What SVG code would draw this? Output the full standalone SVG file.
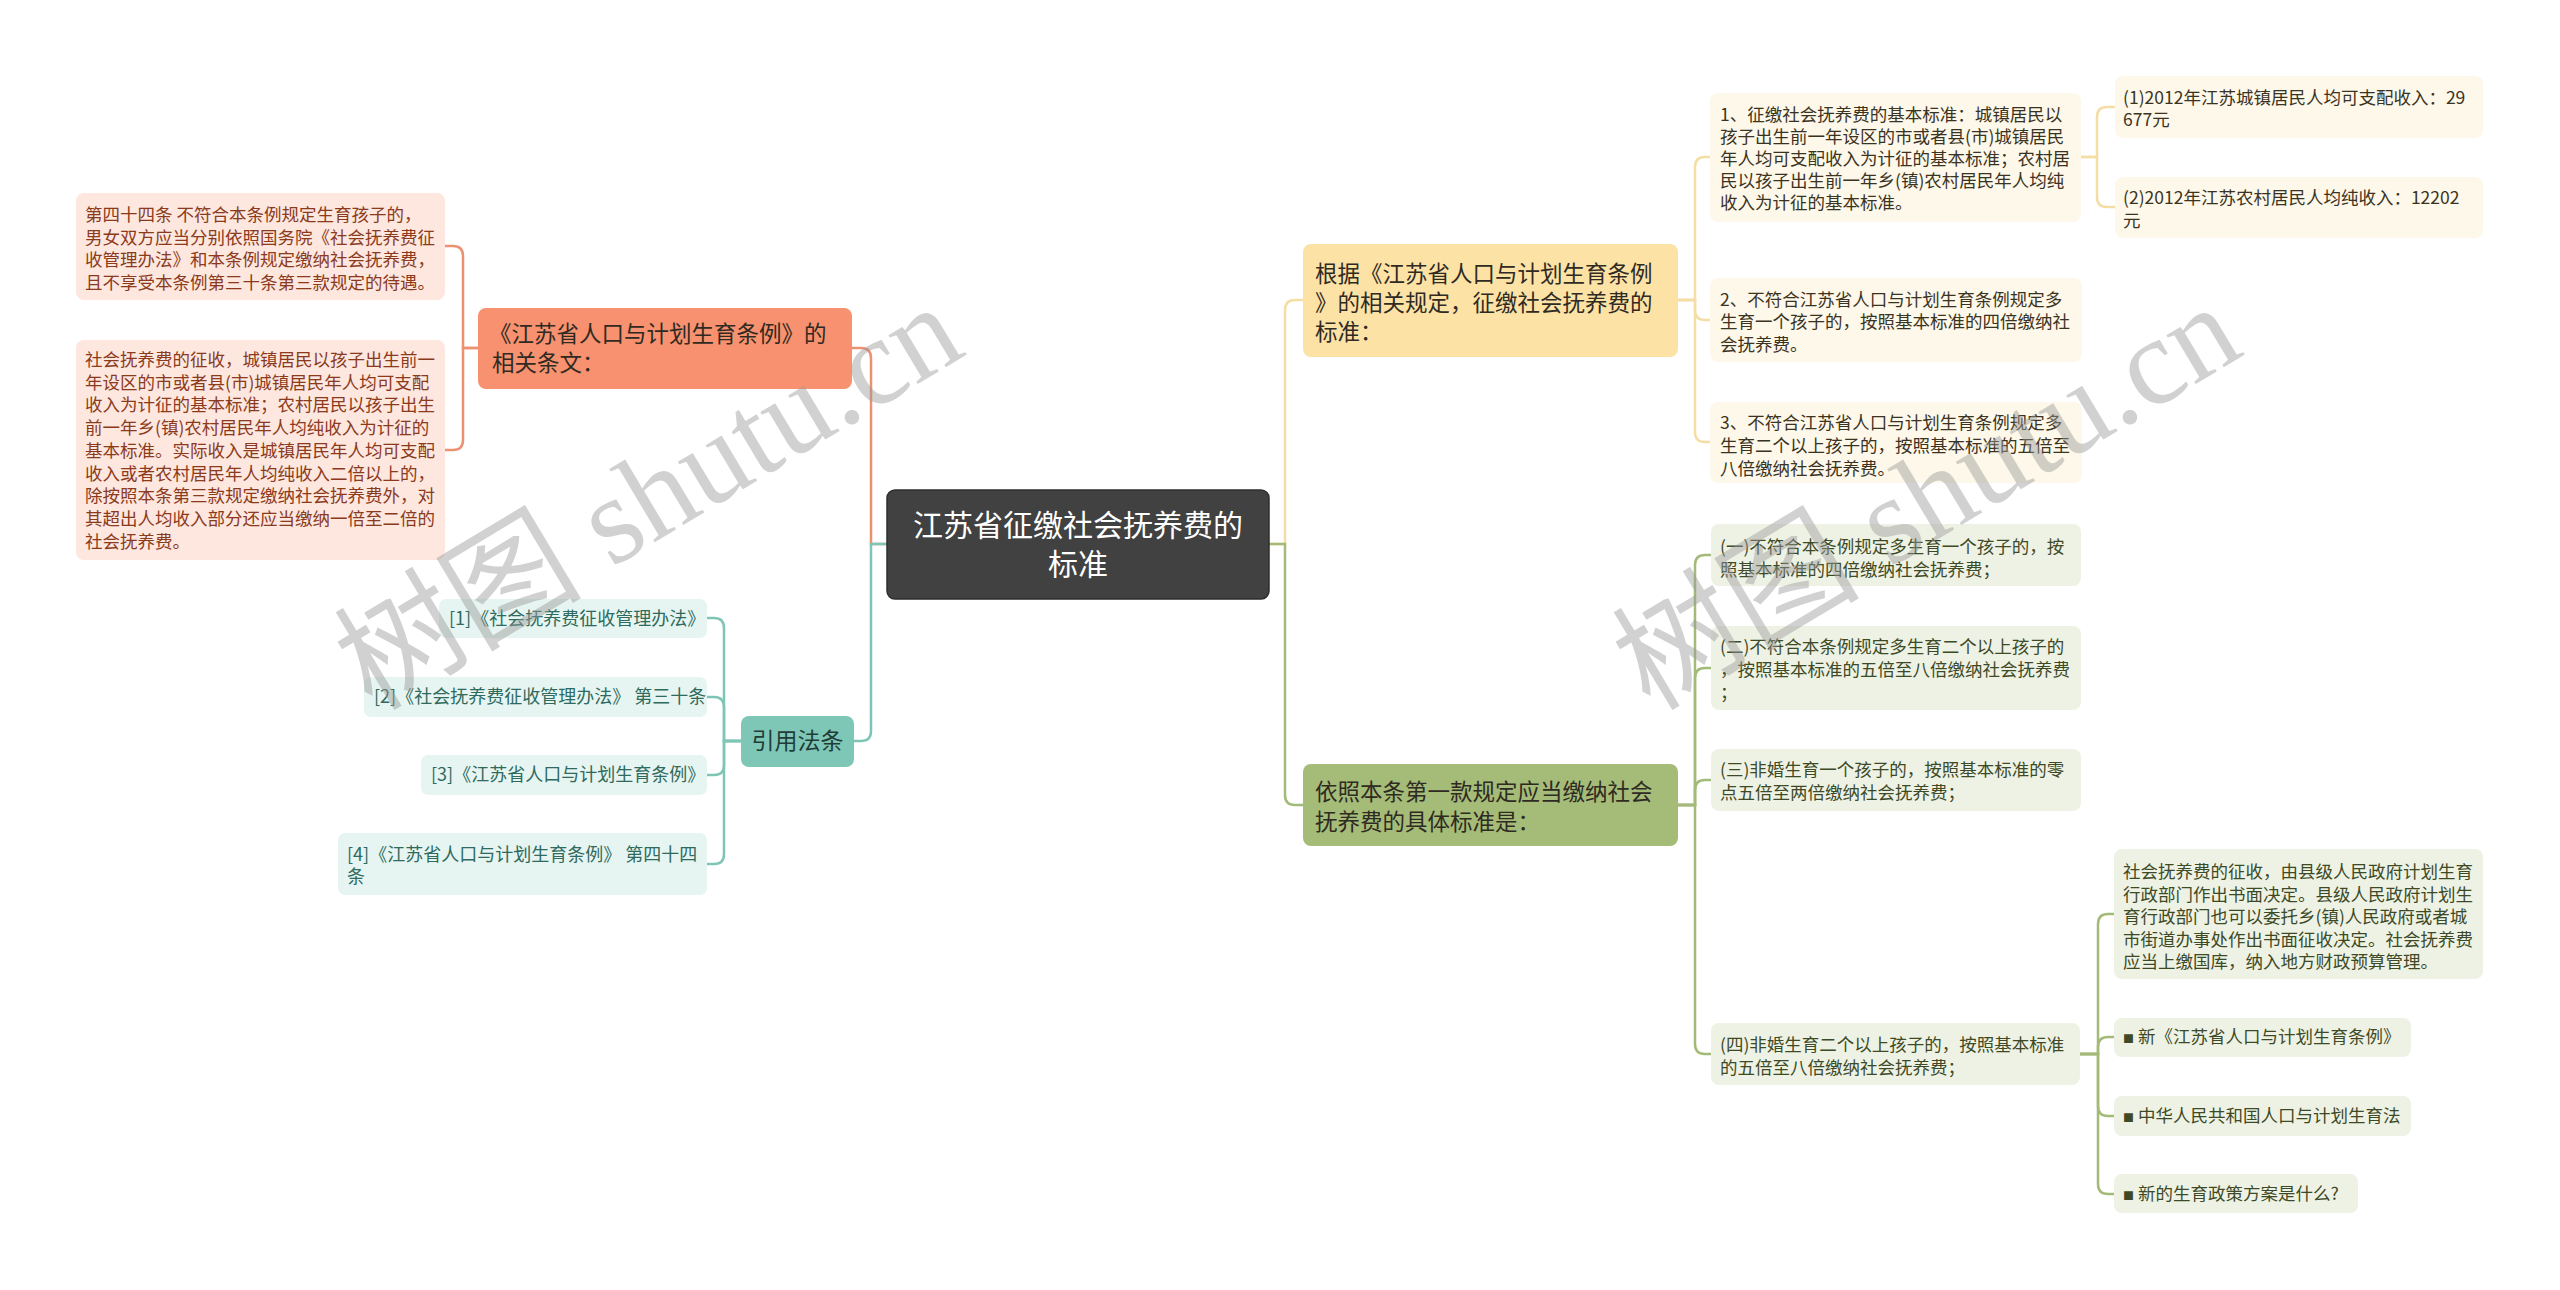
<svg xmlns="http://www.w3.org/2000/svg" width="2560" height="1290" viewBox="0 0 2560 1290">
<style>
text{font-family:"Noto Sans CJK SC","Noto Sans",sans-serif;}
.c{fill:none;stroke-width:2.5;}
.co{stroke:#ec9172;}
.ct{stroke:#7fc5b5;}
.cy{stroke:#f4dea6;}
.cg{stroke:#a3ba78;}
.root{fill:#414141;stroke:#2e2e2e;stroke-width:1.5;}
.rt{fill:#ffffff;font-size:30px;}
.no{fill:#f7916f;}
.nt{fill:#7ec7b6;}
.ny{fill:#fde2a6;}
.ng{fill:#a4bc78;}
.mt{font-size:22.5px;fill:#2f2a22;}
.lo{fill:#fde7df;}
.lt{fill:#e6f5f1;}
.ly{fill:#fdf8ea;}
.lg{fill:#eef2e5;}
.to{font-size:17.5px;fill:#8b3a1c;}
.tt{font-size:18px;fill:#2e6a5d;}
.ty{font-size:17.5px;fill:#3b3322;}
.tg{font-size:17.5px;fill:#3d4a25;}
.b{font-size:11px;}
.wm{font-family:"Liberation Serif","Noto Sans CJK SC",serif;font-size:124px;fill:#9a9a9a;fill-opacity:0.45;}
</style>

<g id="connectors">
<path class="c co" d="M887,544 H871 V358 Q871,348 861,348 H852"/>
<path class="c ct" d="M887,544 H871 V731 Q871,741 861,741 H854"/>
<path class="c cy" d="M1269,544 H1285 V310 Q1285,300 1295,300 H1303"/>
<path class="c cg" d="M1269,544 H1285 V795 Q1285,805 1295,805 H1303"/>

<path class="c co" d="M478,348 H463 V256 Q463,246 453,246 H445"/>
<path class="c co" d="M478,348 H463 V440 Q463,450 453,450 H445"/>

<path class="c ct" d="M741,741 H724 V628 Q724,618 714,618 H707"/>
<path class="c ct" d="M741,741 H724 V707 Q724,697 714,697 H707"/>
<path class="c ct" d="M741,741 H724 V765 Q724,775 714,775 H707"/>
<path class="c ct" d="M741,741 H724 V854 Q724,864 714,864 H707"/>

<path class="c cy" d="M1678,300 H1695 V167 Q1695,157 1705,157 H1710"/>
<path class="c cy" d="M1678,300 H1695 V310 Q1695,320 1705,320 H1710"/>
<path class="c cy" d="M1678,300 H1695 V432 Q1695,442 1705,442 H1710"/>

<path class="c cy" d="M2081,157 H2097 V117 Q2097,107 2107,107 H2115"/>
<path class="c cy" d="M2081,157 H2097 V197 Q2097,207 2107,207 H2115"/>

<path class="c cg" d="M1678,805 H1695 V565 Q1695,555 1705,555 H1711"/>
<path class="c cg" d="M1678,805 H1695 V678 Q1695,668 1705,668 H1711"/>
<path class="c cg" d="M1678,805 H1695 V790 Q1695,780 1705,780 H1711"/>
<path class="c cg" d="M1678,805 H1695 V1044 Q1695,1054 1705,1054 H1711"/>

<path class="c cg" d="M2080,1054 H2098 V924 Q2098,914 2108,914 H2114"/>
<path class="c cg" d="M2080,1054 H2098 V1047 Q2098,1037 2108,1037 H2114"/>
<path class="c cg" d="M2080,1054 H2098 V1106 Q2098,1116 2108,1116 H2114"/>
<path class="c cg" d="M2080,1054 H2098 V1184 Q2098,1194 2108,1194 H2114"/>
</g>

<g id="root">
<rect class="root" x="887" y="490" width="382" height="109" rx="8"/>
<text class="rt" x="1078" y="536" text-anchor="middle">江苏省征缴社会抚养费的</text>
<text class="rt" x="1078" y="575" text-anchor="middle">标准</text>
</g>

<g id="n-orange">
<rect class="no" x="478" y="308" width="374" height="81" rx="8"/>
<text class="mt" x="489" y="342">《江苏省人口与计划生育条例》的</text>
<text class="mt" x="492" y="371">相关条文：</text>
</g>

<g id="n-orange-1">
<rect class="lo" x="76" y="193" width="369" height="107" rx="8"/>
<text class="to" x="85" y="221">第四十四条 不符合本条例规定生育孩子的，</text>
<text class="to" x="85" y="244">男女双方应当分别依照国务院《社会抚养费征</text>
<text class="to" x="85" y="266">收管理办法》和本条例规定缴纳社会抚养费，</text>
<text class="to" x="85" y="289">且不享受本条例第三十条第三款规定的待遇。</text>
</g>

<g id="n-orange-2">
<rect class="lo" x="76" y="340" width="369" height="220" rx="8"/>
<text class="to" x="85" y="366">社会抚养费的征收，城镇居民以孩子出生前一</text>
<text class="to" x="85" y="389">年设区的市或者县(市)城镇居民年人均可支配</text>
<text class="to" x="85" y="411">收入为计征的基本标准；农村居民以孩子出生</text>
<text class="to" x="85" y="434">前一年乡(镇)农村居民年人均纯收入为计征的</text>
<text class="to" x="85" y="457">基本标准。实际收入是城镇居民年人均可支配</text>
<text class="to" x="85" y="480">收入或者农村居民年人均纯收入二倍以上的，</text>
<text class="to" x="85" y="502">除按照本条第三款规定缴纳社会抚养费外，对</text>
<text class="to" x="85" y="525">其超出人均收入部分还应当缴纳一倍至二倍的</text>
<text class="to" x="85" y="548">社会抚养费。</text>
</g>

<g id="n-teal">
<rect class="nt" x="741" y="716" width="113" height="51" rx="8"/>
<text class="mt" x="797.5" y="749" text-anchor="middle" style="font-size:23px;fill:#1f3d36">引用法条</text>
</g>

<g id="n-teal-1">
<rect class="lt" x="439" y="599" width="268" height="39" rx="7"/>
<text class="tt" x="449" y="625">[1]《社会抚养费征收管理办法》</text>
</g>
<g id="n-teal-2">
<rect class="lt" x="364" y="677" width="343" height="40" rx="7"/>
<text class="tt" x="374" y="703">[2]《社会抚养费征收管理办法》 第三十条</text>
</g>
<g id="n-teal-3">
<rect class="lt" x="421" y="755" width="286" height="40" rx="7"/>
<text class="tt" x="431" y="781">[3]《江苏省人口与计划生育条例》</text>
</g>
<g id="n-teal-4">
<rect class="lt" x="338" y="833" width="369" height="62" rx="7"/>
<text class="tt" x="347" y="861">[4]《江苏省人口与计划生育条例》 第四十四</text>
<text class="tt" x="347" y="883">条</text>
</g>

<g id="n-yellow">
<rect class="ny" x="1303" y="244" width="375" height="113" rx="8"/>
<text class="mt" x="1315" y="282">根据《江苏省人口与计划生育条例</text>
<text class="mt" x="1315" y="311">》的相关规定，征缴社会抚养费的</text>
<text class="mt" x="1315" y="340">标准：</text>
</g>

<g id="n-yellow-1">
<rect class="ly" x="1710" y="93" width="371" height="129" rx="8"/>
<text class="ty" x="1720" y="121">1、征缴社会抚养费的基本标准：城镇居民以</text>
<text class="ty" x="1720" y="143">孩子出生前一年设区的市或者县(市)城镇居民</text>
<text class="ty" x="1720" y="165">年人均可支配收入为计征的基本标准；农村居</text>
<text class="ty" x="1720" y="187">民以孩子出生前一年乡(镇)农村居民年人均纯</text>
<text class="ty" x="1720" y="209">收入为计征的基本标准。</text>
</g>
<g id="n-yellow-1-1">
<rect class="ly" x="2115" y="76" width="368" height="62" rx="8"/>
<text class="ty" x="2123" y="104">(1)2012年江苏城镇居民人均可支配收入：29</text>
<text class="ty" x="2123" y="126">677元</text>
</g>
<g id="n-yellow-1-2">
<rect class="ly" x="2115" y="177" width="368" height="61" rx="8"/>
<text class="ty" x="2123" y="204">(2)2012年江苏农村居民人均纯收入：12202</text>
<text class="ty" x="2123" y="227">元</text>
</g>
<g id="n-yellow-2">
<rect class="ly" x="1710" y="278" width="372" height="84" rx="8"/>
<text class="ty" x="1720" y="306">2、不符合江苏省人口与计划生育条例规定多</text>
<text class="ty" x="1720" y="328">生育一个孩子的，按照基本标准的四倍缴纳社</text>
<text class="ty" x="1720" y="351">会抚养费。</text>
</g>
<g id="n-yellow-3">
<rect class="ly" x="1710" y="402" width="372" height="81" rx="8"/>
<text class="ty" x="1720" y="429">3、不符合江苏省人口与计划生育条例规定多</text>
<text class="ty" x="1720" y="452">生育二个以上孩子的，按照基本标准的五倍至</text>
<text class="ty" x="1720" y="475">八倍缴纳社会抚养费。</text>
</g>

<g id="n-green">
<rect class="ng" x="1303" y="764" width="375" height="82" rx="8"/>
<text class="mt" x="1315" y="800">依照本条第一款规定应当缴纳社会</text>
<text class="mt" x="1315" y="830">抚养费的具体标准是：</text>
</g>

<g id="n-green-1">
<rect class="lg" x="1711" y="524" width="370" height="62" rx="8"/>
<text class="tg" x="1720" y="553">(一)不符合本条例规定多生育一个孩子的，按</text>
<text class="tg" x="1720" y="576">照基本标准的四倍缴纳社会抚养费；</text>
</g>
<g id="n-green-2">
<rect class="lg" x="1711" y="626" width="370" height="84" rx="8"/>
<text class="tg" x="1720" y="653">(二)不符合本条例规定多生育二个以上孩子的</text>
<text class="tg" x="1720" y="676">，按照基本标准的五倍至八倍缴纳社会抚养费</text>
<text class="tg" x="1720" y="699">；</text>
</g>
<g id="n-green-3">
<rect class="lg" x="1711" y="749" width="370" height="62" rx="8"/>
<text class="tg" x="1720" y="776">(三)非婚生育一个孩子的，按照基本标准的零</text>
<text class="tg" x="1720" y="799">点五倍至两倍缴纳社会抚养费；</text>
</g>
<g id="n-green-4">
<rect class="lg" x="1711" y="1023" width="369" height="62" rx="8"/>
<text class="tg" x="1720" y="1051">(四)非婚生育二个以上孩子的，按照基本标准</text>
<text class="tg" x="1720" y="1074">的五倍至八倍缴纳社会抚养费；</text>
</g>
<g id="n-green-4-1">
<rect class="lg" x="2114" y="849" width="369" height="130" rx="8"/>
<text class="tg" x="2123" y="878">社会抚养费的征收，由县级人民政府计划生育</text>
<text class="tg" x="2123" y="901">行政部门作出书面决定。县级人民政府计划生</text>
<text class="tg" x="2123" y="923">育行政部门也可以委托乡(镇)人民政府或者城</text>
<text class="tg" x="2123" y="946">市街道办事处作出书面征收决定。社会抚养费</text>
<text class="tg" x="2123" y="968">应当上缴国库，纳入地方财政预算管理。</text>
</g>
<g id="n-green-4-2">
<rect class="lg" x="2114" y="1018" width="297" height="39" rx="8"/>
<text class="tg" x="2123" y="1043"><tspan class="b">■</tspan> 新《江苏省人口与计划生育条例》</text>
</g>
<g id="n-green-4-3">
<rect class="lg" x="2114" y="1096" width="297" height="40" rx="8"/>
<text class="tg" x="2123" y="1122"><tspan class="b">■</tspan> 中华人民共和国人口与计划生育法</text>
</g>
<g id="n-green-4-4">
<rect class="lg" x="2114" y="1174" width="244" height="39" rx="8"/>
<text class="tg" x="2123" y="1200"><tspan class="b">■</tspan> 新的生育政策方案是什么?</text>
</g>

<g id="watermark">
<text class="wm" transform="translate(372,712) rotate(-31)">树图 shutu.cn</text>
<text class="wm" transform="translate(1650,712) rotate(-31)">树图 shutu.cn</text>
</g>
</svg>
